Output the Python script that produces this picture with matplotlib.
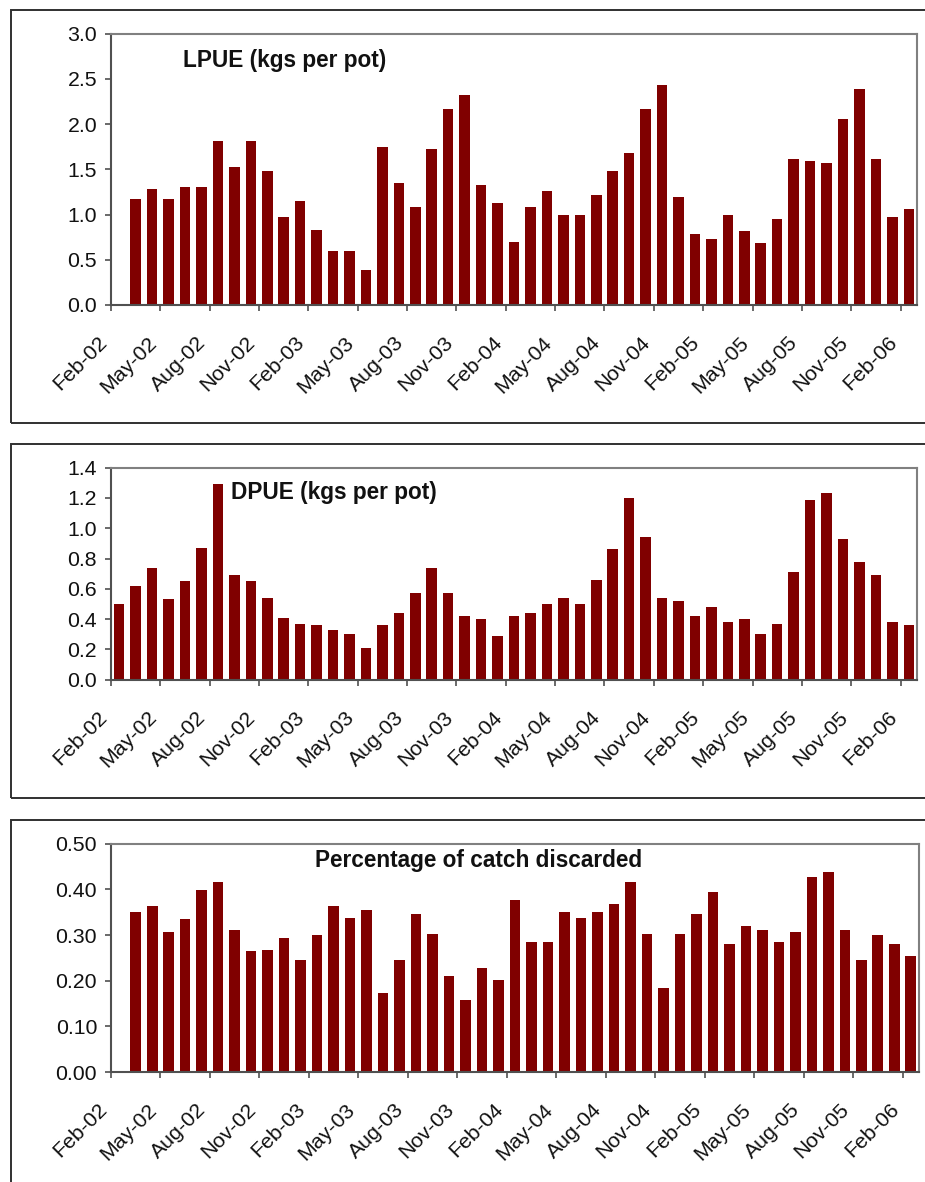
import numpy as np
import matplotlib
matplotlib.use('Agg')
import matplotlib.pyplot as plt
from matplotlib.patches import Rectangle

plt.rcParams['font.family'] = ['Liberation Sans', 'DejaVu Sans']

# ── データ (Feb-02 .. Feb-06, 月ごと) ─────────────────────────────────────────
months = ['Feb-02', 'Mar-02', 'Apr-02', 'May-02', 'Jun-02', 'Jul-02', 'Aug-02', 'Sep-02',
          'Oct-02', 'Nov-02', 'Dec-02', 'Jan-03', 'Feb-03', 'Mar-03', 'Apr-03', 'May-03',
          'Jun-03', 'Jul-03', 'Aug-03', 'Sep-03', 'Oct-03', 'Nov-03', 'Dec-03', 'Jan-04',
          'Feb-04', 'Mar-04', 'Apr-04', 'May-04', 'Jun-04', 'Jul-04', 'Aug-04', 'Sep-04',
          'Oct-04', 'Nov-04', 'Dec-04', 'Jan-05', 'Feb-05', 'Mar-05', 'Apr-05', 'May-05',
          'Jun-05', 'Jul-05', 'Aug-05', 'Sep-05', 'Oct-05', 'Nov-05', 'Dec-05', 'Jan-06',
          'Feb-06']

lpue = [np.nan, 1.17, 1.28, 1.17, 1.31, 1.31, 1.81, 1.53, 1.81, 1.48, 0.97, 1.15, 0.83,
        0.60, 0.60, 0.39, 1.75, 1.35, 1.08, 1.73, 2.17, 2.32, 1.33, 1.13, 0.70, 1.08,
        1.26, 1.00, 1.00, 1.22, 1.48, 1.68, 2.17, 2.43, 1.19, 0.79, 0.73, 1.00, 0.82,
        0.69, 0.95, 1.61, 1.59, 1.57, 2.06, 2.39, 1.61, 0.97, 1.06]

dpue = [0.50, 0.62, 0.74, 0.53, 0.65, 0.87, 1.29, 0.69, 0.65, 0.54, 0.41, 0.37, 0.36,
        0.33, 0.30, 0.21, 0.36, 0.44, 0.57, 0.74, 0.57, 0.42, 0.40, 0.29, 0.42, 0.44,
        0.50, 0.54, 0.50, 0.66, 0.86, 1.20, 0.94, 0.54, 0.52, 0.42, 0.48, 0.38, 0.40,
        0.30, 0.37, 0.71, 1.19, 1.23, 0.93, 0.78, 0.69, 0.38, 0.36]

discarded = [np.nan, 0.351, 0.364, 0.307, 0.334, 0.399, 0.417, 0.312, 0.264, 0.268,
             0.294, 0.246, 0.299, 0.364, 0.338, 0.355, 0.172, 0.246, 0.347, 0.303,
             0.211, 0.158, 0.228, 0.202, 0.377, 0.285, 0.285, 0.351, 0.338, 0.351,
             0.369, 0.417, 0.303, 0.185, 0.303, 0.347, 0.395, 0.281, 0.320, 0.312,
             0.285, 0.307, 0.426, 0.439, 0.312, 0.246, 0.299, 0.281, 0.255]

tick_labels = months[::3]

BAR = '#800000'
FW, FH = 925, 1182

fig = plt.figure(figsize=(FW / 100, FH / 100), dpi=100)

# 外枠 (Excel のチャートエリア)
for top, bot in [(10, 423), (444, 798), (820, 1195)]:
    fig.add_artist(Rectangle((11 / FW, 1 - bot / FH), 1.0, (bot - top) / FH,
                             transform=fig.transFigure, fill=False,
                             edgecolor='#303030', linewidth=1.4))

panels = [
    # (values, ymax, ystep, fmt, title, title_x, title_y, (left, top, right, bottom))
    (lpue, 3.0, 0.5, '%.1f', 'LPUE (kgs per pot)', 285, 61, (111, 33.7, 917, 305)),
    (dpue, 1.4, 0.2, '%.1f', 'DPUE (kgs per pot)', 334, 492, (111, 467.7, 917, 679.7)),
    (discarded, 0.5, 0.1, '%.2f', 'Percentage of catch discarded', 479, 860,
     (111, 843.7, 919, 1072)),
]

x = np.arange(len(months)) + 0.5

for vals, ymax, ystep, fmt, title, tx, ty, (l, t, r, b) in panels:
    ax = fig.add_axes([l / FW, 1 - b / FH, (r - l) / FW, (b - t) / FH])
    ax.bar(x, vals, width=0.64, color=BAR, zorder=2)
    ax.set_xlim(0, len(months))
    ax.set_ylim(0, ymax)
    ax.set_yticks(np.arange(0, ymax + ystep / 2, ystep))
    ax.yaxis.set_major_formatter(matplotlib.ticker.FormatStrFormatter(fmt))
    ax.set_xticks(np.arange(0, len(months), 3))
    ax.set_xticklabels(tick_labels, rotation=45, ha='right', va='top',
                       rotation_mode='default')
    ax.tick_params(axis='both', direction='out', length=4, width=1.2,
                   color='#505050', labelsize=15.3, labelcolor='#111111')
    ax.tick_params(axis='x', pad=16)
    ax.tick_params(axis='y', pad=6)
    for side in ['top', 'right']:
        ax.spines[side].set_color('#808080')
        ax.spines[side].set_linewidth(1.5)
    for side in ['left', 'bottom']:
        ax.spines[side].set_color('#505050')
        ax.spines[side].set_linewidth(1.5)
    fig.text(tx / FW, 1 - ty / FH, title, ha='center', va='center',
             fontsize=16.3, fontweight='bold', color='#111111')

plt.savefig('out.png', dpi=100)
